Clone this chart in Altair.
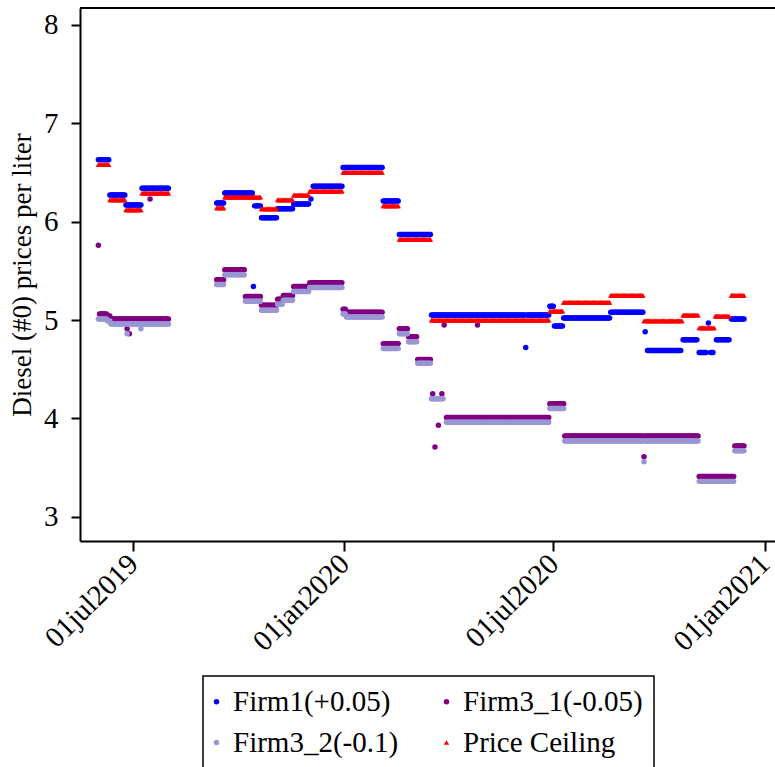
import altair as alt
import pandas as pd

SERIES = ["Firm1(+0.05)", "Firm3_1(-0.05)", "Firm3_2(-0.1)", "Price Ceiling"]
COLORS = ["#0000ff", "#800080", "#9a96d4", "#ff0000"]
SHAPES = ["circle", "circle", "circle", "triangle-up"]
SIZES = [30, 30, 30, 100]

# Each series is stored as runs of days sharing one price: first day, last day, value.
firm1_start = ["2019-06-01", "2019-06-11", "2019-06-25", "2019-07-09", "2019-09-12",
               "2019-09-19", "2019-10-14", "2019-10-15", "2019-10-21", "2019-11-04",
               "2019-11-18", "2019-12-03", "2019-12-05", "2019-12-31", "2020-02-04",
               "2020-02-18", "2020-03-17", "2020-06-07", "2020-06-08", "2020-06-28",
               "2020-07-02", "2020-07-10", "2020-08-20", "2020-09-19", "2020-09-21",
               "2020-10-22", "2020-11-05", "2020-11-13", "2020-11-15", "2020-11-20",
               "2020-12-03"]
firm1_end = ["2019-06-10", "2019-06-24", "2019-07-08", "2019-08-01", "2019-09-18",
             "2019-10-13", "2019-10-14", "2019-10-20", "2019-11-03", "2019-11-17",
             "2019-12-01", "2019-12-03", "2019-12-30", "2020-02-03", "2020-02-17",
             "2020-03-16", "2020-06-06", "2020-06-07", "2020-06-27", "2020-07-01",
             "2020-07-09", "2020-08-19", "2020-09-17", "2020-09-19", "2020-10-20",
             "2020-11-03", "2020-11-11", "2020-11-13", "2020-11-17", "2020-12-01",
             "2020-12-14"]
firm1_value = [6.63, 6.27, 6.17, 6.34, 6.19,
               6.29, 5.34, 6.16, 6.04, 6.13,
               6.18, 6.23, 6.36, 6.55, 6.21,
               5.87, 5.05, 4.72, 5.05, 5.14,
               4.94, 5.02, 5.08, 4.88, 4.69,
               4.80, 4.67, 4.97, 4.67, 4.80,
               5.01]

firm31_start = ["2019-06-01", "2019-06-02", "2019-06-09", "2019-06-12", "2019-06-26",
                "2019-06-28", "2019-07-16", "2019-09-12", "2019-09-19", "2019-10-07",
                "2019-10-21", "2019-11-04", "2019-11-09", "2019-11-18", "2019-12-02",
                "2019-12-31", "2020-01-03", "2020-02-04", "2020-02-18", "2020-02-26",
                "2020-03-05", "2020-03-18", "2020-03-20", "2020-03-23", "2020-03-26",
                "2020-03-28", "2020-03-30", "2020-04-26", "2020-06-28", "2020-07-11",
                "2020-09-18", "2020-09-19", "2020-11-05", "2020-12-06"]
firm31_end = ["2019-06-01", "2019-06-08", "2019-06-11", "2019-08-01", "2019-06-26",
              "2019-06-28", "2019-07-16", "2019-09-18", "2019-10-06", "2019-10-20",
              "2019-11-03", "2019-11-08", "2019-11-17", "2019-12-01", "2019-12-30",
              "2020-01-02", "2020-02-03", "2020-02-17", "2020-02-25", "2020-03-04",
              "2020-03-16", "2020-03-18", "2020-03-20", "2020-03-23", "2020-03-26",
              "2020-03-28", "2020-06-27", "2020-04-26", "2020-07-10", "2020-09-17",
              "2020-09-18", "2020-11-04", "2020-12-05", "2020-12-14"]
firm31_value = [5.76, 5.06, 5.04, 5.01, 4.91,
                4.86, 6.23, 5.41, 5.51, 5.24,
                5.15, 5.21, 5.25, 5.34, 5.38,
                5.11, 5.08, 4.76, 4.91, 4.83,
                4.60, 4.25, 3.71, 3.93, 4.25,
                4.95, 4.01, 4.95, 4.15, 3.82,
                3.61, 3.82, 3.41, 3.72]

firm32_start = ["2019-06-01", "2019-06-09", "2019-06-12", "2019-06-26", "2019-07-08",
                "2019-09-12", "2019-09-19", "2019-10-07", "2019-10-21", "2019-11-04",
                "2019-11-09", "2019-11-18", "2019-12-02", "2019-12-31", "2020-01-03",
                "2020-02-04", "2020-02-18", "2020-02-26", "2020-03-05", "2020-03-17",
                "2020-03-30", "2020-06-28", "2020-07-11", "2020-09-18", "2020-09-19",
                "2020-11-05", "2020-12-06"]
firm32_end = ["2019-06-08", "2019-06-11", "2019-08-01", "2019-06-26", "2019-07-08",
              "2019-09-18", "2019-10-06", "2019-10-20", "2019-11-03", "2019-11-08",
              "2019-11-17", "2019-12-01", "2019-12-30", "2020-01-02", "2020-02-03",
              "2020-02-17", "2020-02-25", "2020-03-04", "2020-03-16", "2020-03-27",
              "2020-06-27", "2020-07-10", "2020-09-17", "2020-09-18", "2020-11-04",
              "2020-12-05", "2020-12-14"]
firm32_value = [5.01, 4.99, 4.96, 4.86, 4.91,
                5.36, 5.46, 5.19, 5.10, 5.16,
                5.20, 5.29, 5.33, 5.06, 5.03,
                4.71, 4.86, 4.78, 4.56, 4.20,
                3.96, 4.10, 3.77, 3.56, 3.77,
                3.36, 3.67]

ceiling_start = ["2019-06-01", "2019-06-11", "2019-06-25", "2019-07-09", "2019-09-12",
                 "2019-09-19", "2019-10-21", "2019-11-04", "2019-11-18", "2019-12-02",
                 "2019-12-31", "2020-02-04", "2020-02-18", "2020-03-17", "2020-06-28",
                 "2020-07-10", "2020-08-20", "2020-09-18", "2020-10-22", "2020-11-05",
                 "2020-11-19", "2020-12-03"]
ceiling_end = ["2019-06-10", "2019-06-24", "2019-07-08", "2019-08-01", "2019-09-18",
               "2019-10-20", "2019-11-03", "2019-11-17", "2019-12-01", "2019-12-30",
               "2020-02-03", "2020-02-17", "2020-03-16", "2020-06-27", "2020-07-09",
               "2020-08-19", "2020-09-17", "2020-10-21", "2020-11-04", "2020-11-18",
               "2020-12-01", "2020-12-14"]
ceiling_value = [6.58, 6.22, 6.12, 6.29, 6.14,
                 6.25, 6.13, 6.22, 6.27, 6.31,
                 6.50, 6.16, 5.82, 5.00, 5.09,
                 5.18, 5.25, 4.99, 5.05, 4.92,
                 5.04, 5.25]

X_TICKS = ["2019-07-01", "2020-01-01", "2020-07-01", "2021-01-01"]
Y_TICKS = [3, 4, 5, 6, 7, 8]

W, H = 695, 533
FONT = "Liberation Serif"

runs = [
    (SERIES[0], firm1_start, firm1_end, firm1_value),
    (SERIES[1], firm31_start, firm31_end, firm31_value),
    (SERIES[2], firm32_start, firm32_end, firm32_value),
    (SERIES[3], ceiling_start, ceiling_end, ceiling_value),
]

# one row per day, in series order so the ceiling is drawn last
rows = []
for name, starts, ends, values in runs:
    for s, e, v in zip(starts, ends, values):
        for day in pd.date_range(s, e, freq="D"):
            rows.append({"date": day.strftime("%Y-%m-%dT00:00:00"), "price": v, "series": name})
df = pd.DataFrame(rows)


def dt(s):
    y, m, d = (int(p) for p in s.split("-"))
    return alt.DateTime(year=y, month=m, date=d)


legend = alt.Legend(
    title=None, orient="none", legendX=123, legendY=668, columns=2,
    direction="horizontal",
)

points = alt.Chart(df).mark_point(filled=True, opacity=1, strokeWidth=0).encode(
    x=alt.X(
        "date:T",
        title=None,
        scale=alt.Scale(domain=[dt("2019-05-16"), dt("2021-01-10")], nice=False),
        axis=alt.Axis(
            values=[dt(v) for v in X_TICKS],
            labelExpr="lower(timeFormat(datum.value, '%d%b%Y'))",
            labelAngle=-45, labelAlign="right", labelBaseline="middle",
            labelPadding=8, tickSize=10, grid=False,
        ),
    ),
    y=alt.Y(
        "price:Q",
        title="Diesel (#0) prices per liter",
        scale=alt.Scale(domain=[2.754, 8.171], nice=False, zero=False),
        axis=alt.Axis(values=Y_TICKS, grid=False, tickSize=9, labelPadding=13,
                      titlePadding=7),
    ),
    color=alt.Color("series:N", scale=alt.Scale(domain=SERIES, range=COLORS), legend=legend),
    shape=alt.Shape("series:N", scale=alt.Scale(domain=SERIES, range=SHAPES), legend=legend),
    size=alt.Size("series:N", scale=alt.Scale(domain=SERIES, range=SIZES), legend=None),
)

top_line = alt.Chart(df).mark_rule(color="black", strokeWidth=2).encode(
    x=alt.value(0), x2=alt.value(W), y=alt.value(0)
)

chart = alt.layer(points, top_line).properties(
    width=W, height=H,
    autosize=alt.AutoSizeParams(type="none"),
    padding={"left": 80, "top": 8, "right": 0, "bottom": 226},
).configure_view(
    stroke=None
).configure_axis(
    domainColor="black", domainWidth=2, tickColor="black", tickWidth=2,
    labelFont=FONT, labelFontSize=29, labelColor="black",
    titleFont=FONT, titleFontSize=27, titleFontWeight="normal", titleColor="black",
).configure_legend(
    labelFont=FONT, labelFontSize=29, labelColor="black", labelLimit=400,
    symbolSize=12, symbolStrokeWidth=0, symbolOffset=-12,
    strokeColor="black", strokeWidth=1.5,
    padding=11, rowPadding=11, columnPadding=44, labelOffset=2,
    fillColor="white",
)

chart.save("out.html", embed_options={"renderer": "svg", "actions": False})
